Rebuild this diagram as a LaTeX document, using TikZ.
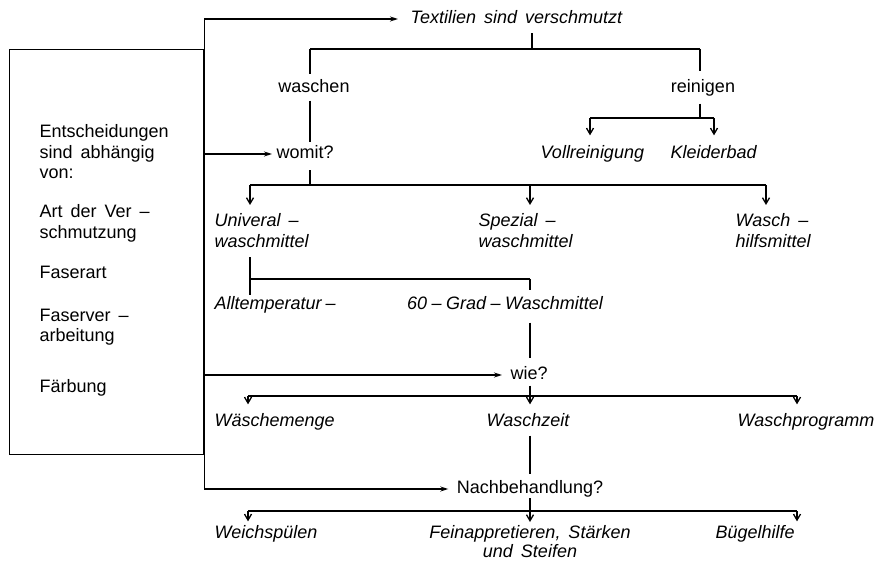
\documentclass[tikz,border=0pt]{standalone}
\usepackage{fontspec}
\setmainfont{Liberation Sans}[WordSpace=1.6]
\usetikzlibrary{arrows.meta}
\begin{document}
\begin{tikzpicture}[x=1pt,y=-1pt,
  line width=1.3pt,
  basefont/.style={inner sep=0pt, font=\fontsize{18}{20.5}\selectfont},
  lbl/.style={basefont, text height=13pt, text depth=4pt},
  ilbl/.style={lbl, font=\fontsize{18}{20.5}\selectfont\itshape},
  mlbl/.style={basefont, align=left},
  imlbl/.style={mlbl, font=\fontsize{18}{20.5}\selectfont\itshape},
  harrow/.style={-{Stealth[length=8pt,width=5pt]}},
  darrow/.style={-{Straight Barb[length=6pt,width=7pt]}},
]
\useasboundingbox (0,0) rectangle (875,561);

% left box and its texts
\node[draw, minimum width=194pt, minimum height=405pt, anchor=north west, inner sep=0pt] (box) at (9,49) {};
\node[mlbl, anchor=north west] (ent) at (39,124) {Entscheidungen\\sind abhängig\\von:};
\node[mlbl, anchor=north west] (art) at (39,204) {Art der Ver –\\schmutzung};
\node[lbl, anchor=base west] (fas) at (39,279) {Faserart};
\node[mlbl, anchor=north west] (fasv) at (39,308) {Faserver –\\arbeitung};
\node[lbl, anchor=base west] (farb) at (39,392) {Färbung};

% right side texts
\node[ilbl, anchor=west] (tex) at (410,19) {Textilien sind verschmutzt};
\node[lbl, anchor=base] (wasch) at (314,93) {waschen};
\node[lbl, anchor=base] (rein) at (703,93) {reinigen};
\node[lbl, anchor=west] (womit) at (276,154) {womit?};
\node[ilbl, anchor=base west] (voll) at (540,159) {Vollreinigung};
\node[ilbl, anchor=base west] (kleid) at (670,159) {Kleiderbad};
\node[imlbl, anchor=north west] (univ) at (214,213) {Univeral –\\waschmittel};
\node[imlbl, anchor=north west] (spez) at (478,213) {Spezial –\\waschmittel};
\node[imlbl, anchor=north west] (whm) at (735,213) {Wasch –\\hilfsmittel};
\node[ilbl, anchor=base west] (allt) at (214,309) {Alltemperatur\hspace{4pt}–};
\node[ilbl, anchor=base] (grad) at (505,309) {60\hspace{4.5pt}–\hspace{4.5pt}Grad\hspace{4.5pt}–\hspace{4.5pt}Waschmittel};
\node[lbl, anchor=west] (wie) at (510,375) {wie?};
\node[ilbl, anchor=base west] (menge) at (214,426) {Wäschemenge};
\node[ilbl, anchor=base] (zeit) at (528,426) {Waschzeit};
\node[ilbl, anchor=base west] (prog) at (737,426) {Waschprogramm};
\node[lbl, anchor=center] (nach) at (530,489) {Nachbehandlung?};
\node[ilbl, anchor=base west] (weich) at (214,538) {Weichspülen};
\node[mlbl, anchor=north, align=center, font=\fontsize{18}{19}\selectfont\itshape] (fein) at (530,525) {Feinappretieren, Stärken\\und Steifen};
\node[ilbl, anchor=base west] (bueg) at (715,538) {Bügelhilfe};

% junctions
\coordinate (tj) at (532,49);
\coordinate (wj) at (310,49);
\coordinate (rj) at (700,49);
\coordinate (rb) at (700,118);
\coordinate (vj) at (590,118);
\coordinate (kj) at (714,118);
\coordinate (mj) at (310,185);
\coordinate (uj) at (250,185);
\coordinate (sj) at (530,185);
\coordinate (hj) at (766,185);
\coordinate (aj) at (250,279);
\coordinate (gj) at (530,279);
\coordinate (wl) at (248,396);
\coordinate (wr) at (797,396);
\coordinate (nl) at (248,511);
\coordinate (nr) at (797,511);

% spine and horizontal arrows
\draw (box.east |- tex) -- (box.east |- nach);
\draw[harrow, shorten >=12pt] (box.east |- tex) -- (tex.west);
\draw[harrow, shorten >=4pt] (box.east |- womit) -- (womit.west);
\draw[harrow, shorten >=8pt] (box.east |- wie) -- (wie.west);
\draw[harrow, shorten >=8pt] (box.east |- nach) -- (nach.west);

% Textilien -> waschen / reinigen
\draw[shorten <=5pt] (tj |- tex.south) -- (tj);
\draw (wj) -- (rj);
\draw[shorten >=5pt] (wj) -- (wj |- wasch.north);
\draw[shorten <=3pt, shorten >=3pt] (wj |- wasch.south) -- (wj |- womit.north);
\draw[shorten >=8pt] (rj) -- (rj |- rein.north);
\draw[shorten <=6pt] (rj |- rein.south) -- (rb);
\draw (vj) -- (kj);
\draw[darrow, shorten >=10pt] (vj) -- (vj |- voll.north);
\draw[darrow, shorten >=10pt] (kj) -- (kj |- kleid.north);

% womit -> Waschmittel
\draw[shorten <=7pt] (mj |- womit.south) -- (mj);
\draw (uj) -- (hj);
\draw[darrow, shorten >=8pt] (uj) -- (uj |- univ.north);
\draw[darrow, shorten >=8pt] (sj) -- (sj |- spez.north);
\draw[darrow, shorten >=8pt] (hj) -- (hj |- whm.north);
\draw[shorten <=9pt] (uj |- univ.south) -- (aj |- allt.north);
\draw (aj) -- (gj);
\draw[shorten >=5pt] (gj) -- (gj |- grad.north);
\draw[shorten <=9pt, shorten >=8pt] (gj |- grad.south) -- (gj |- wie.north);

% wie?
\draw (wl) -- (wr);
\draw[darrow, shorten <=1.5pt, shorten >=8pt] (gj |- wie.south) -- (gj |- zeit.north);
\draw[darrow, shorten >=8pt] (wl) -- (wl |- menge.north);
\draw[darrow, shorten >=8pt] (wr) -- (wr |- prog.north);
\draw[shorten <=5pt, shorten >=5.5pt] (gj |- zeit.south) -- (gj |- nach.north);

% Nachbehandlung?
\draw (nl) -- (nr);
\draw[darrow, shorten >=3pt] (gj |- nach.south) -- (gj |- fein.north);
\draw[darrow, shorten >=3pt] (nl) -- (nl |- weich.north);
\draw[darrow, shorten >=3pt] (nr) -- (nr |- bueg.north);
\end{tikzpicture}
\end{document}
